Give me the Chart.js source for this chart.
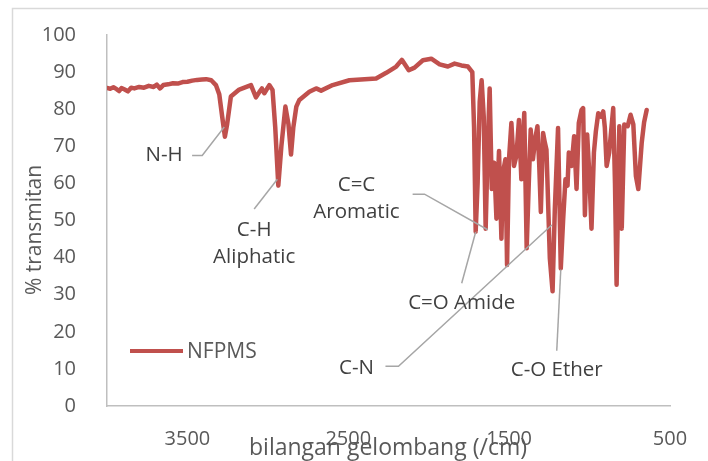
<!DOCTYPE html>
<html>
<head>
<meta charset="utf-8">
<script src="https://cdn.jsdelivr.net/npm/chart.js@4.4.1/dist/chart.umd.min.js"></script>
<style>
  body { margin: 0; background: #fff; }
  canvas { display: block; }
</style>
</head>
<body>
<canvas id="myChart" width="708" height="461"></canvas>
<script>
// spectrum (wavenumber /cm, % transmittance)
const wavenumber = [
  4000, 3980, 3960, 3940, 3925, 3910, 3890, 3870, 3850, 3830, 3800, 3770, 3740, 3710,
  3690, 3670, 3650, 3620, 3590, 3560, 3530, 3500, 3470, 3440, 3410, 3383, 3352,
  3323, 3302, 3284, 3267, 3253, 3230, 3178, 3105, 3074, 3053, 3037, 3022, 2991,
  2971, 2954, 2935, 2916, 2891, 2872, 2856, 2842, 2823, 2804, 2742, 2700, 2669, 2597,
  2493, 2327, 2264, 2202, 2167, 2124, 2088, 2036, 1984, 1932, 1881, 1839, 1797, 1756,
  1729, 1718, 1708, 1696, 1683, 1671, 1658, 1646, 1633, 1621, 1608, 1593, 1579, 1563,
  1548, 1538, 1523, 1513, 1501, 1486, 1478, 1470, 1455, 1439, 1424, 1406, 1391, 1378,
  1366, 1352, 1338, 1324, 1313, 1303, 1289, 1278, 1268, 1247, 1230, 1216, 1196, 1179,
  1164, 1150, 1137, 1129, 1112, 1096, 1081, 1067, 1050, 1040, 1029, 1015, 1001, 988,
  973, 961, 946, 930, 915, 905, 894, 878, 853, 842, 832, 815, 800, 784, 763, 745,
  728, 712, 697, 676, 661, 645
];
const transmitan = [
  85.7, 85.5, 85.9, 85.4, 84.9, 85.7, 85.3, 84.8, 85.8, 85.6, 86.0, 85.8, 86.3, 86.0,
  86.6, 85.6, 86.5, 86.7, 87.0, 86.9, 87.3, 87.4, 87.7, 87.9, 88.0, 88.1, 87.8,
  86.5, 84.0, 78.0, 72.6, 76.0, 83.4, 85.3, 86.5, 83.2, 84.6, 85.6, 84.3, 86.5,
  85.2, 75.0, 59.4, 70.0, 80.7, 76.0, 67.8, 75.0, 80.7, 82.5, 84.7, 85.6, 85.0, 86.5,
  87.8, 88.3, 89.8, 91.5, 93.3, 90.5, 91.2, 93.2, 93.6, 92.1, 91.5, 92.3, 91.8, 91.5,
  90.0, 75.0, 47.0, 60.0, 82.0, 87.8, 78.0, 47.8, 70.0, 85.6, 58.5, 65.6, 50.5, 68.7,
  45.1, 63.0, 66.5, 38.0, 66.5, 76.3, 70.0, 64.7, 67.4, 77.1, 61.1, 79.0, 42.5, 60.0,
  74.5, 66.5, 72.0, 75.4, 65.0, 52.3, 73.6, 71.0, 69.1, 39.8, 30.9, 53.1, 74.9, 37.1,
  50.5, 61.1, 59.4, 68.3, 64.7, 72.7, 58.5, 76.3, 79.8, 80.3, 51.4, 73.2, 62.0, 47.8,
  68.3, 74.0, 78.9, 78.0, 79.4, 75.0, 64.7, 68.3, 80.3, 60.0, 32.7, 75.4, 47.8, 75.9,
  75.4, 78.5, 75.9, 62.0, 58.5, 70.9, 76.5, 79.8
];
const seriesName = 'NFPMS';
const xTicks = [3500, 2500, 1500, 500];
const yTicks = [0, 10, 20, 30, 40, 50, 60, 70, 80, 90, 100];

// band labels: text anchor and leader path in data units
const bands = [
  { lines: ['N-H'], at: [3645, 67.5], path: [[3471, 67.5], [3408, 67.5], [3271, 75.2]] },
  { lines: ['C-H', 'Aliphatic'], at: [3085, 47.5], path: [[3085, 53.1], [2941, 61.1]] },
  { lines: ['C=C', 'Aromatic'], at: [2449, 59.5], path: [[2100, 57.1], [2026, 57.1], [1633, 47.5]] },
  { lines: ['C=O Amide'], at: [1795, 27.7], path: [[1795, 33.1], [1708, 46.9]] },
  { lines: ['C-N'], at: [2449, 10.1], path: [[2269, 10.7], [2188, 10.7], [1235, 48.8]] },
  { lines: ['C-O Ether'], at: [1204, 9.6], path: [[1204, 14.9], [1179, 36.8]] }
];

const FONT = "'Open Sans', sans-serif";
const RED = '#C0504D';
const TXT = '#595959';

const points = wavenumber.map((w, i) => ({ x: w, y: transmitan[i] }));

const extras = {
  id: 'extras',
  beforeDraw(chart) {
    const c = chart.ctx;
    c.save();
    c.strokeStyle = '#D9D9D9';
    c.lineWidth = 1.5;
    c.strokeRect(12.5, 8.5, 720, 480);
    c.restore();
  },
  afterDraw(chart) {
    const c = chart.ctx;
    const xs = chart.scales.x, ys = chart.scales.y;
    c.save();
    // leader lines
    c.strokeStyle = '#A6A6A6';
    c.lineWidth = 1.5;
    bands.forEach(b => {
      c.beginPath();
      b.path.forEach((p, i) => {
        const px = xs.getPixelForValue(p[0]), py = ys.getPixelForValue(p[1]);
        if (i === 0) c.moveTo(px, py); else c.lineTo(px, py);
      });
      c.stroke();
    });
    // band texts
    c.fillStyle = '#404040';
    c.font = '20.5px ' + FONT;
    c.textAlign = 'center';
    c.textBaseline = 'middle';
    bands.forEach(b => {
      const px = xs.getPixelForValue(b.at[0]);
      let py = ys.getPixelForValue(b.at[1]);
      b.lines.forEach(t => { c.fillText(t, px, py); py += 27; });
    });
    // legend inside plot
    c.strokeStyle = RED;
    c.lineWidth = 4;
    c.beginPath();
    c.moveTo(130, 351);
    c.lineTo(183, 351);
    c.stroke();
    c.fillStyle = TXT;
    c.textAlign = 'left';
    c.font = '21px ' + FONT;
    c.fillText(seriesName, 187, 352);
    // axis titles
    c.font = '23px ' + FONT;
    c.textAlign = 'center';
    c.fillText('bilangan gelombang (/cm)', 388, 448);
    c.font = '21px ' + FONT;
    c.translate(35, 230);
    c.rotate(-Math.PI / 2);
    c.fillText('% transmitan', 0, 0);
    c.restore();
  }
};

new Chart(document.getElementById('myChart').getContext('2d'), {
  type: 'line',
  data: {
    datasets: [{
      label: seriesName,
      data: points,
      borderColor: RED,
      borderWidth: 4.5,
      borderJoinStyle: 'round',
      borderCapStyle: 'round',
      pointRadius: 0,
      tension: 0,
      fill: false
    }]
  },
  options: {
    responsive: false,
    animation: false,
    devicePixelRatio: 1,
    layout: { padding: { left: 0, right: 38, top: 31, bottom: 0 } },
    plugins: { legend: { display: false }, tooltip: { enabled: false } },
    scales: {
      x: {
        type: 'linear',
        reverse: true,
        min: 500,
        max: 4000,
        afterBuildTicks: s => { s.ticks = xTicks.map(v => ({ value: v })); },
        afterFit: s => { s.height = 55; },
        grid: { display: false },
        border: { display: true, color: '#BFBFBF', width: 1.5 },
        ticks: { color: TXT, font: { family: FONT, size: 20 }, padding: 13, maxRotation: 0, autoSkip: false,
                 callback: v => String(v) }
      },
      y: {
        min: 0,
        max: 100,
        afterBuildTicks: s => { s.ticks = yTicks.map(v => ({ value: v })); },
        afterFit: s => { s.width = 107; },
        grid: { display: false },
        border: { display: true, color: '#BFBFBF', width: 1.5 },
        ticks: { color: TXT, font: { family: FONT, size: 20 }, padding: 23 }
      }
    }
  },
  plugins: [extras]
});
</script>
</body>
</html>
